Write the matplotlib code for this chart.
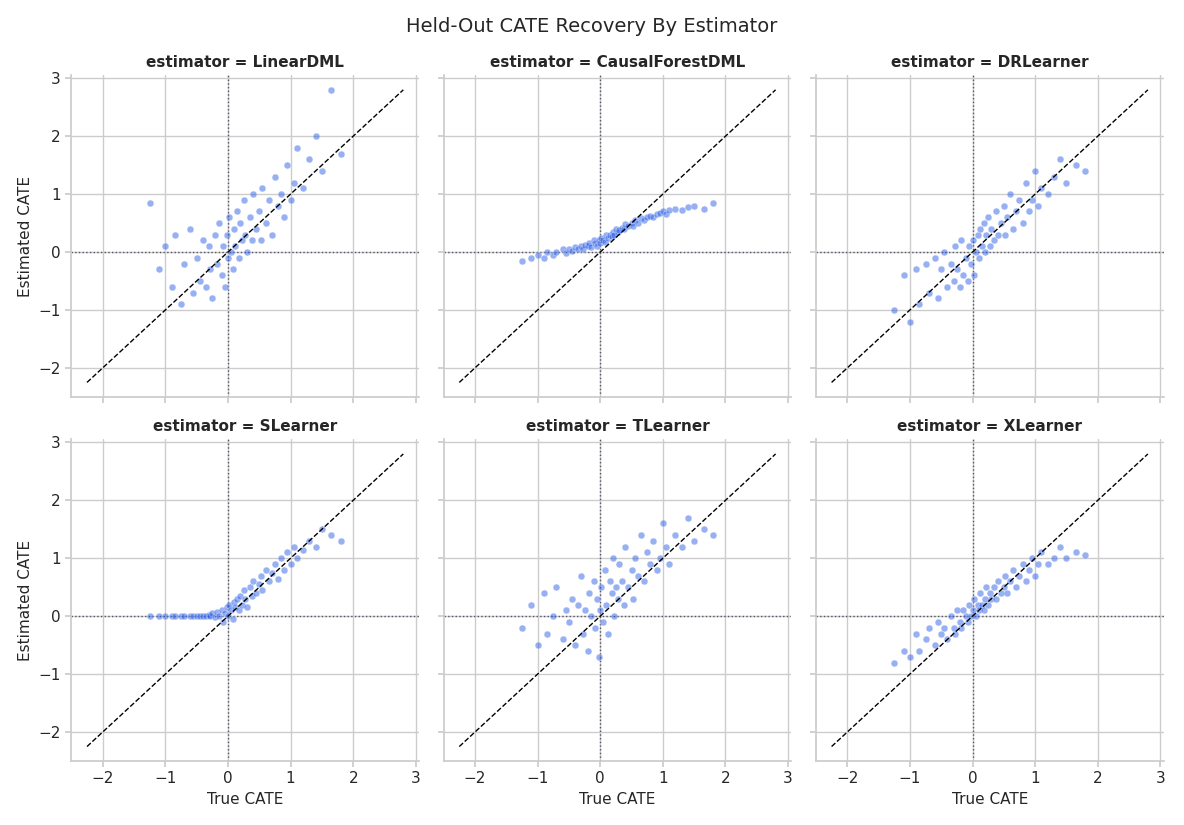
import matplotlib
matplotlib.use("Agg")
import matplotlib.pyplot as plt
import seaborn as sns

sns.set_theme(style="whitegrid")

estimators = ["LinearDML", "CausalForestDML", "DRLearner", "SLearner", "TLearner", "XLearner"]
true_cate = [-1.25,-1.1,-1.0,-0.9,-0.85,-0.75,-0.7,-0.6,-0.55,-0.5,
             -0.45,-0.4,-0.35,-0.3,-0.28,-0.25,-0.2,-0.18,-0.15,-0.1,
             -0.08,-0.05,-0.02,0.0,0.02,0.05,0.08,0.1,0.12,0.15,
             0.18,0.2,0.22,0.25,0.28,0.3,0.35,0.38,0.4,0.45,
             0.5,0.52,0.55,0.6,0.65,0.7,0.75,0.8,0.85,0.9,
             0.95,1.0,1.05,1.1,1.2,1.3,1.4,1.5,1.65,1.8]
est_lineardml = [0.85,-0.3,0.1,-0.6,0.3,-0.9,-0.2,0.4,-0.7,-0.1,
                 -0.5,0.2,-0.6,0.1,-0.3,-0.8,0.3,-0.2,0.5,-0.4,
                 0.1,-0.6,0.3,-0.1,0.6,0.0,-0.3,0.4,0.1,0.7,
                 -0.1,0.5,0.2,0.9,0.3,0.0,0.6,0.2,1.0,0.4,
                 0.7,0.2,1.1,0.5,0.9,0.3,1.3,0.8,1.0,0.6,
                 1.5,0.9,1.2,1.8,1.1,1.6,2.0,1.4,2.8,1.7]
est_cforest = [-0.15,-0.1,-0.05,-0.1,0.0,-0.05,0.0,0.05,-0.02,0.05,
               0.02,0.08,0.05,0.1,0.05,0.12,0.1,0.15,0.08,0.2,
               0.15,0.1,0.2,0.15,0.25,0.2,0.18,0.3,0.25,0.3,
               0.28,0.35,0.3,0.4,0.35,0.38,0.42,0.4,0.48,0.45,
               0.5,0.45,0.55,0.5,0.58,0.55,0.6,0.62,0.6,0.65,
               0.68,0.7,0.65,0.72,0.75,0.72,0.78,0.8,0.75,0.85]
est_dr = [-1.0,-0.4,-1.2,-0.3,-0.9,-0.2,-0.7,-0.1,-0.8,-0.3,
          0.0,-0.6,-0.2,-0.5,0.1,-0.3,-0.6,0.2,-0.4,-0.1,
          -0.5,0.1,-0.2,0.2,-0.4,0.0,0.3,-0.1,0.4,0.1,
          0.5,0.0,0.3,0.6,0.1,0.4,0.2,0.7,0.3,0.5,
          0.8,0.3,0.6,1.0,0.4,0.7,0.9,0.5,1.2,0.7,
          0.9,1.4,0.8,1.1,1.0,1.3,1.6,1.2,1.5,1.4]
est_s = [0,0,0,0,0,0,0,0,0,0,
         0,0.01,0,0.02,0,0.05,-0.02,0.08,0.0,0.1,
         -0.1,0.05,0.15,0.0,0.2,0.1,-0.05,0.25,0.15,0.3,
         0.1,0.35,0.2,0.45,0.3,0.15,0.5,0.35,0.6,0.4,
         0.55,0.7,0.45,0.8,0.6,0.75,0.9,0.65,1.0,0.8,
         1.1,0.9,1.2,1.0,1.15,1.3,1.2,1.5,1.4,1.3]
est_t = [-0.2,0.2,-0.5,0.4,-0.3,0.0,0.5,-0.4,0.1,-0.1,
         0.3,-0.5,0.2,0.7,-0.3,0.1,-0.6,0.4,0.0,0.6,
         -0.2,0.3,-0.7,0.1,0.5,-0.1,0.8,0.2,-0.3,0.6,
         0.4,1.0,0.0,0.5,0.3,0.9,0.6,0.2,1.2,0.5,
         0.8,0.3,1.0,0.7,1.4,0.6,1.1,0.9,1.3,0.8,
         1.0,1.6,1.2,0.9,1.4,1.2,1.7,1.3,1.5,1.4]
est_x = [-0.8,-0.6,-0.7,-0.3,-0.6,-0.4,-0.2,-0.5,-0.1,-0.3,
         -0.2,-0.4,0.0,-0.2,-0.3,0.1,-0.1,-0.2,0.1,0.0,
         -0.1,0.2,0.0,0.1,0.3,0.0,0.2,0.1,0.4,0.2,
         0.1,0.3,0.5,0.2,0.4,0.3,0.5,0.3,0.6,0.4,
         0.5,0.7,0.4,0.6,0.8,0.5,0.7,0.9,0.6,0.8,
         1.0,0.7,0.9,1.1,0.9,1.0,1.2,1.0,1.1,1.05]
estimates = [est_lineardml, est_cforest, est_dr, est_s, est_t, est_x]
diag = [-2.25, 2.8]
ticks = [-2, -1, 0, 1, 2, 3]

fig, axes = plt.subplots(2, 3, figsize=(11.84, 8.25), dpi=100, sharex=True, sharey=True)
for ax, name, ys in zip(axes.flat, estimators, estimates):
    ax.scatter(true_cate, ys, s=24, color="#2f62e8", alpha=0.5, edgecolor="white", linewidth=0.4, zorder=3)
    ax.plot(diag, diag, ls="--", color="black", lw=1, zorder=4)
    ax.axhline(0, ls=":", color="#555566", lw=1, zorder=2)
    ax.axvline(0, ls=":", color="#555566", lw=1, zorder=2)
    ax.set_title(f"estimator = {name}", fontweight="bold", fontsize=11)
    ax.set_xlim(-2.5, 3.05)
    ax.set_ylim(-2.5, 3.05)
    ax.set_xticks(ticks)
    ax.set_yticks(ticks)
    for s in ["top", "right"]:
        ax.spines[s].set_visible(False)
    ax.tick_params(left=True, bottom=True, length=4, color="#cccccc", labelsize=11)
for ax in axes[1]:
    ax.set_xlabel("True CATE", fontsize=11)
for ax in axes[:, 0]:
    ax.set_ylabel("Estimated CATE", fontsize=11)
fig.suptitle("Held-Out CATE Recovery By Estimator", fontsize=14)
fig.tight_layout(w_pad=1.0, h_pad=1.0)
fig.savefig("out.png")
